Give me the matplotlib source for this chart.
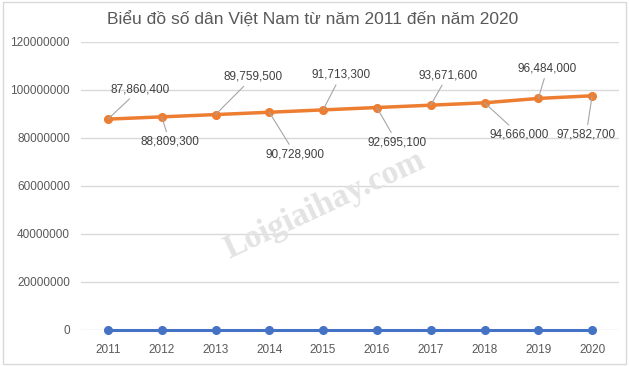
import matplotlib
matplotlib.use("Agg")
import matplotlib.pyplot as plt
from matplotlib.patches import Rectangle

plt.rcParams['font.family'] = ['Liberation Sans Narrow', 'Liberation Sans', 'DejaVu Sans']

# data
years = [2011, 2012, 2013, 2014, 2015, 2016, 2017, 2018, 2019, 2020]
year_labels = [str(y) for y in years]
population = [87860400, 88809300, 89759500, 90728900, 91713300,
              92695100, 93671600, 94666000, 96484000, 97582700]
yticks = [0, 20000000, 40000000, 60000000, 80000000, 100000000, 120000000]

# label offsets in pixels (text centre relative to point)
label_offsets = [(32, 30), (8, -25), (38, 38), (26, -42), (18, 35),
                 (20, -35), (17, 30), (35, -32), (9, 30), (-6, -39)]

fig = plt.figure(figsize=(6.29, 3.66), dpi=100)
ax = fig.add_axes([81 / 629, 36 / 366, 538 / 629, 288 / 366])

x = list(range(len(years)))
# blue series: the year column plotted as values (sits on 0)
ax.plot(x, years, color='#4472C4', lw=2.2, marker='o', ms=5.5, zorder=3, clip_on=False)
ax.plot(x, population, color='#ED7D31', lw=2.5, marker='o', ms=5.5, zorder=3)

for i, v in enumerate(population):
    ax.annotate(f"{v:,}", xy=(i, v), xytext=label_offsets[i],
                textcoords='offset pixels', ha='center', va='center',
                fontsize=8.5, color='#404040',
                arrowprops=dict(arrowstyle='-', color='#A6A6A6', lw=0.8,
                                shrinkA=1, shrinkB=0))

ax.set_xlim(-0.5, len(years) - 0.5)
ax.set_ylim(0, 120000000)
ax.set_yticks(yticks)
ax.set_yticklabels([str(t) for t in yticks])
ax.set_xticks(x)
ax.set_xticklabels(year_labels)
ax.tick_params(length=0, labelsize=8.5, colors='#595959', pad=8)
ax.tick_params(axis='x', pad=10)
ax.grid(axis='y', color='#D9D9D9', lw=1)
ax.set_axisbelow(True)
for s in ax.spines.values():
    s.set_visible(False)

# watermark
fig.text(325 / 629, 1 - 205 / 366, "Loigiaihay.com", rotation=25,
         ha='center', va='center', fontsize=24, fontweight='bold',
         color='#E3E3E3', family=['Liberation Serif', 'DejaVu Serif'], zorder=0)

fig.text(313 / 629, 1 - 20 / 366, "Biểu đồ số dân Việt Nam từ năm 2011 đến năm 2020",
         ha='center', va='center', fontsize=12.5, color='#595959')

fig.patches.append(Rectangle((0.004, 0.005), 0.992, 0.99, transform=fig.transFigure,
                             fill=False, edgecolor='#D9D9D9', lw=1))

fig.savefig('out.png', dpi=100)
